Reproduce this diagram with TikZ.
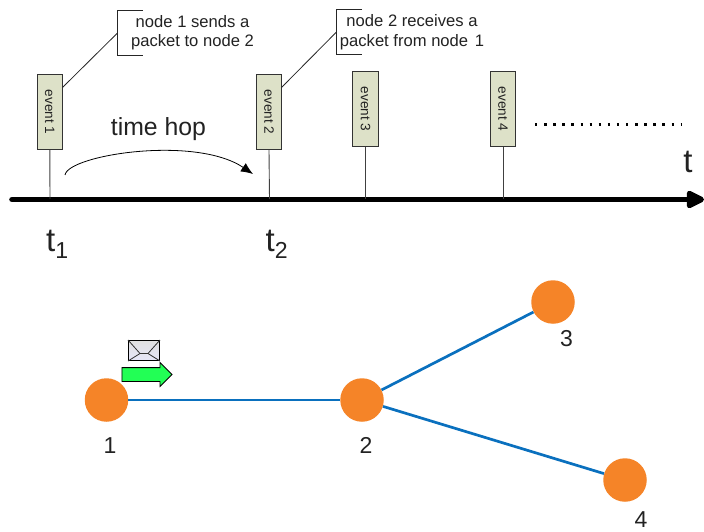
\documentclass[tikz,border=0pt]{standalone}
\usepackage{fontspec}
\setmainfont{Liberation Sans}
\usetikzlibrary{arrows.meta,shapes.arrows,calc}
\definecolor{evfill}{HTML}{DDE1C8}
\definecolor{nodeor}{HTML}{F58428}
\definecolor{linkbl}{HTML}{0A70BE}
\definecolor{arrgreen}{HTML}{22FF55}
\definecolor{txt}{HTML}{222222}
\tikzset{
 x=1pt,y=-1pt,
 evbox/.style={draw=black!80!white,line width=0.9pt,fill=evfill,minimum width=25.5pt,minimum height=75pt,inner sep=0pt},
 evtext/.style={font=\fontsize{13.6}{14}\selectfont,text=txt},
 stem/.style={draw=black!75!white,line width=0.9pt},
 leader/.style={draw=black!85!white,line width=0.8pt},
 callout/.style={font=\fontsize{16.6}{19.5}\selectfont,text=txt,align=center,inner sep=0pt},
 netnode/.style={circle,fill=nodeor,minimum size=43.5pt,inner sep=0pt},
 netlink/.style={draw=linkbl,line width=2.7pt},
 numlabel/.style={font=\fontsize{23}{25}\selectfont,text=txt,inner sep=0pt},
 biglabel/.style={font=\fontsize{33}{35}\selectfont,text=txt,inner sep=0pt},
}
\begin{document}
\begin{tikzpicture}
\useasboundingbox (0,0) rectangle (704,532);
% axis
\coordinate (axL) at (12,199.5);
\coordinate (axR) at (704,199.5);
\draw[line width=5.6pt,line cap=round,-{Triangle[length=21pt,width=19pt,round=false]}] (axL) -- (axR);
% stems
\coordinate (s1) at (50,199); \coordinate (s2) at (269.5,199);
\coordinate (s3) at (365.5,199); \coordinate (s4) at (503,199);
\node[evbox] (ev1) at (49.8,112) {};
\node[evbox] (ev2) at (269,112) {};
\node[evbox] (ev3) at (365.5,109) {};
\node[evbox] (ev4) at (503,109) {};
\node[evtext,rotate=-90] (et1) at (ev1.center) {event 1};
\node[evtext,rotate=-90] (et2) at (ev2.center) {event 2};
\node[evtext,rotate=-90] (et3) at (ev3.center) {event 3};
\node[evtext,rotate=-90] (et4) at (ev4.center) {event 4};
\draw[stem] (ev1.south) -- (s1);
\draw[stem] (ev2.south) -- (s2);
\draw[stem] (ev3.south) -- (s3);
\draw[stem] (ev4.south) -- (s4);
% callouts
\coordinate (b1a) at (143,10.5); \coordinate (b1b) at (117.5,10.5);
\coordinate (b1c) at (117.5,55.5); \coordinate (b1d) at (143,55.5);
\coordinate (b1m) at (117.5,33);
\coordinate (l1) at (62.5,87.5);
\draw[leader] (b1a) -- (b1b) -- (b1c) -- (b1d);
\draw[leader] (l1) -- (b1m);
\node[callout] (c1) at (192.5,32.5) {node 1 sends a\\packet to node 2};
\coordinate (b2a) at (362,9.5); \coordinate (b2b) at (336.5,9.5);
\coordinate (b2c) at (336.5,54.5); \coordinate (b2d) at (362,54.5);
\coordinate (b2m) at (336.5,32);
\coordinate (l2) at (281.5,87.5);
\draw[leader] (b2a) -- (b2b) -- (b2c) -- (b2d);
\draw[leader] (l2) -- (b2m);
\node[callout] (c2) at (412,32) {node 2 receives a\\packet from node~\hspace{2pt}1};
% time hop
\node[font=\fontsize{24.8}{26}\selectfont,text=txt,inner sep=0pt] (th) at (158.5,129.5) {time hop};
\coordinate (h1) at (65,175); \coordinate (h2) at (253,174);
\draw[black,line width=0.8pt,-{Latex[length=12pt,width=10pt]}] (h1) .. controls (68,155) and (195,135) .. (h2);
% dots
\coordinate (d1) at (535,124.5); \coordinate (d2) at (681,124.5);
\draw[line width=2.4pt,line cap=butt,dash pattern=on 2.4pt off 6.7pt] (d1) -- (d2);
% labels
\node[biglabel] (t) at (688,162) {t};
\node[biglabel] (t1) at (57.5,244.5) {t\textsubscript{1}};
\node[biglabel] (t2) at (277,244.5) {t\textsubscript{2}};
% network
\node[netnode] (n1) at (106.5,400) {};
\node[netnode] (n2) at (362,400) {};
\node[netnode] (n3) at (553,302) {};
\node[netnode] (n4) at (625,480) {};
\draw[netlink] (n1) -- (n2);
\draw[netlink] (n2) -- (n3);
\draw[netlink] (n2) -- (n4);
\node[numlabel] (l1t) at (110,445.5) {1};
\node[numlabel] (l2t) at (366,445.5) {2};
\node[numlabel] (l3t) at (566.5,339) {3};
\node[numlabel] (l4t) at (641,519.5) {4};
% envelope
\node[draw=black,line width=1pt,inner sep=0pt,minimum width=31pt,minimum height=20pt,top color=black!12,bottom color=black!28!blue!10!white] (env) at (144,350.5) {};
\draw[black!80!white,line width=0.8pt] (env.north west) -- ($(env.center)+(-4,3)$) -- ($(env.center)+(4,3)$) -- (env.north east);
\draw[black!80!white,line width=0.8pt] (env.south west) -- ($(env.center)+(-4,3)$);
\draw[black!80!white,line width=0.8pt] (env.south east) -- ($(env.center)+(4,3)$);
% green arrow
\node[single arrow,draw=black,line width=0.8pt,fill=arrgreen,minimum height=50pt,single arrow head extend=5pt,single arrow tip angle=90,inner xsep=0pt,inner ysep=6.5pt] (gr) at (143.5,374.5) {};
\end{tikzpicture}
\end{document}
